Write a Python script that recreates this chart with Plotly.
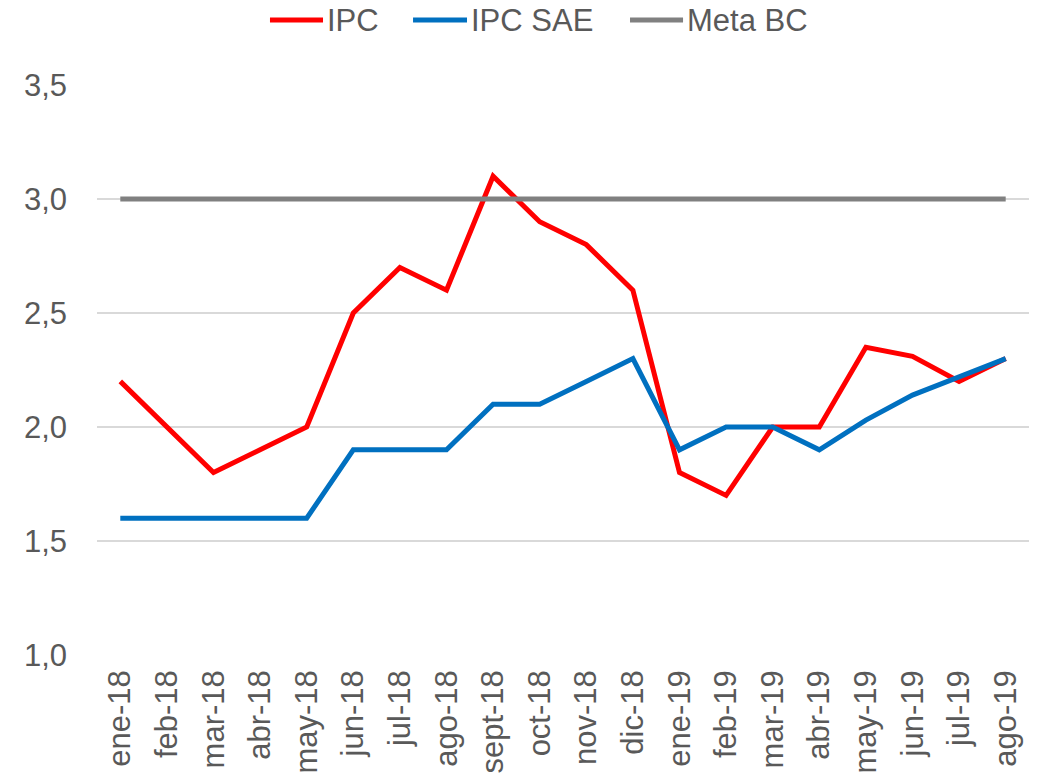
import plotly.graph_objects as go

months = ["ene-18", "feb-18", "mar-18", "abr-18", "may-18", "jun-18", "jul-18", "ago-18",
          "sept-18", "oct-18", "nov-18", "dic-18", "ene-19", "feb-19", "mar-19", "abr-19",
          "may-19", "jun-19", "jul-19", "ago-19"]
ipc = [2.2, 2.0, 1.8, 1.9, 2.0, 2.5, 2.7, 2.6, 3.1, 2.9, 2.8, 2.6, 1.8, 1.7, 2.0, 2.0,
       2.35, 2.31, 2.2, 2.3]
ipc_sae = [1.6, 1.6, 1.6, 1.6, 1.6, 1.9, 1.9, 1.9, 2.1, 2.1, 2.2, 2.3, 1.9, 2.0, 2.0, 1.9,
           2.03, 2.14, 2.22, 2.3]
meta_bc = [3.0] * 20

series_names = ["IPC", "IPC SAE", "Meta BC"]
series_colors = ["#FF0000", "#0070C0", "#808080"]
series_values = [ipc, ipc_sae, meta_bc]

FONT = "Liberation Sans, Arial, sans-serif"
FS = 31
TXT = "#595959"

fig = go.Figure()
for name, color, vals in zip(series_names, series_colors, series_values):
    fig.add_trace(go.Scatter(x=months, y=vals, name=name, mode="lines",
                             line=dict(color=color, width=5), showlegend=False))

# manual legend (line sample + label) placed above the plot area
legend_line_x = [(0.1856, 0.2425), (0.3391, 0.3970), (0.5719, 0.6288)]
legend_y = 1.114
for (x0, x1), name, color in zip(legend_line_x, series_names, series_colors):
    fig.add_shape(type="line", xref="paper", yref="paper", x0=x0, x1=x1,
                  y0=legend_y, y1=legend_y, line=dict(color=color, width=5))
    fig.add_annotation(xref="paper", yref="paper", x=x1 + 0.002, y=legend_y,
                       xanchor="left", yanchor="middle", text=name, showarrow=False,
                       font=dict(family=FONT, size=FS, color=TXT))

fig.update_layout(
    width=1038, height=778,
    paper_bgcolor="white", plot_bgcolor="white",
    margin=dict(l=97, r=9, t=85, b=123, autoexpand=False),
    separators=",.",
    font=dict(family=FONT, size=FS, color=TXT),
    showlegend=False,
    hovermode=False,
    xaxis=dict(type="category", tickangle=-90, showgrid=False, showline=False,
               ticks="", tickfont=dict(family=FONT, size=FS, color=TXT),
               automargin=False, range=[-0.5, 19.5], ticklabelstandoff=8),
    yaxis=dict(range=[1.0, 3.5], dtick=0.5, tickformat=".1f", showgrid=True,
               gridcolor="#D9D9D9", gridwidth=1.5, zeroline=False, showline=False,
               ticks="", tickfont=dict(family=FONT, size=FS, color=TXT),
               automargin=False, ticklabelstandoff=29),
)

fig.write_html("out.html",
               config={"displayModeBar": False},
               post_script="document.body.style.margin='0';document.body.style.overflow='hidden';")
